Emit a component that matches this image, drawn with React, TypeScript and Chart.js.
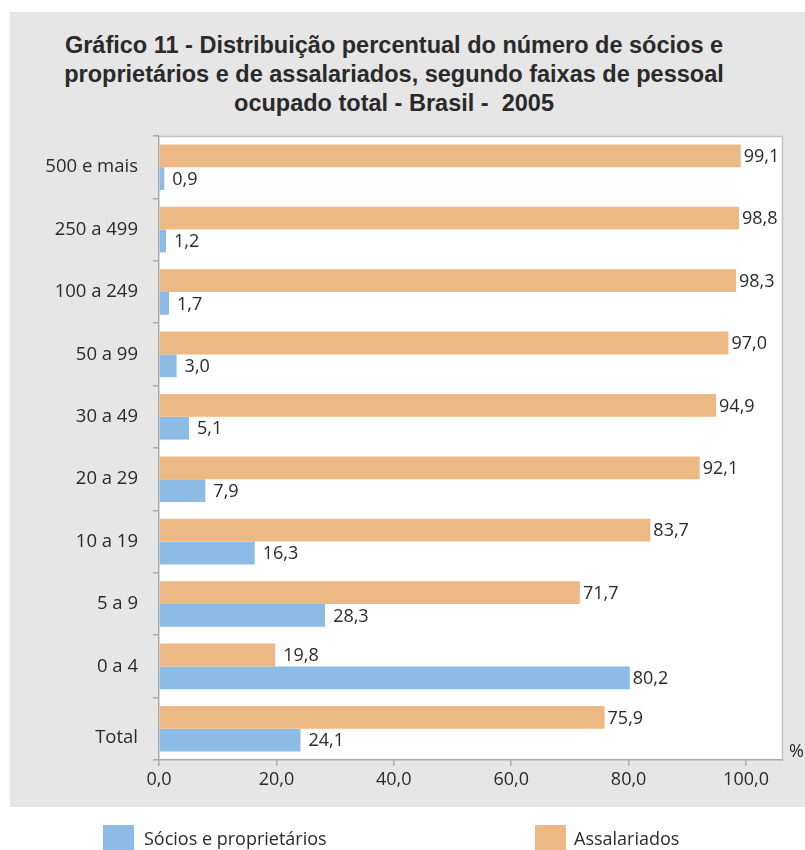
import React, { useEffect, useRef } from "react";
import { Chart, registerables } from "chart.js";
Chart.register(...registerables);

const categories = ["500 e mais", "250 a 499", "100 a 249", "50 a 99", "30 a 49", "20 a 29", "10 a 19", "5 a 9", "0 a 4", "Total"];
const socios = [0.9, 1.2, 1.7, 3.0, 5.1, 7.9, 16.3, 28.3, 80.2, 24.1];
const assalariados = [99.1, 98.8, 98.3, 97.0, 94.9, 92.1, 83.7, 71.7, 19.8, 75.9];
const xTickValues = [0, 20, 40, 60, 80, 100];
const titleLines = [
  "Gráfico 11 - Distribuição percentual do número de sócios e",
  "proprietários e de assalariados, segundo faixas de pessoal",
  "ocupado total - Brasil -  2005",
];
const seriesNames = ["Sócios e proprietários", "Assalariados"];

const ORANGE = "#ECB985";
const BLUE = "#8CBBE6";
const GRAY_BG = "#E5E6E5";
const TEXT = "#2a2a2a";
const FONT = "'Open Sans', 'Noto Sans', sans-serif";

const fmt = (v: number) => v.toFixed(1).replace(".", ",");

export default function App() {
  const ref = useRef<HTMLCanvasElement | null>(null);
  useEffect(() => {
    if (!ref.current) return;
    const areaPlugin = {
      id: "area",
      beforeDraw(chart: any) {
        const { ctx, chartArea: a } = chart;
        ctx.save();
        ctx.fillStyle = "#ffffff";
        ctx.fillRect(a.left, a.top, a.right - a.left, a.bottom - a.top);
        ctx.restore();
      },
      afterDraw(chart: any) {
        const { ctx, chartArea: a } = chart;
        ctx.save();
        ctx.strokeStyle = "#C2C2C2";
        ctx.lineWidth = 1.5;
        ctx.beginPath();
        ctx.moveTo(a.left, a.top + 0.5);
        ctx.lineTo(a.right - 0.5, a.top + 0.5);
        ctx.lineTo(a.right - 0.5, a.bottom);
        ctx.stroke();
        ctx.restore();
      },
      afterDatasetsDraw(chart: any) {
        const { ctx } = chart;
        ctx.save();
        ctx.font = `18px ${FONT}`;
        ctx.fillStyle = TEXT;
        ctx.textBaseline = "middle";
        ctx.textAlign = "left";
        chart.data.datasets.forEach((ds: any, di: number) => {
          const meta = chart.getDatasetMeta(di);
          meta.data.forEach((el: any, i: number) => {
            const v = ds.data[i] as number;
            const gap = v > 50 ? 3 : 8;
            ctx.fillText(fmt(v), el.x + gap, el.y + 1);
          });
        });
        ctx.restore();
      },
    };
    const chart = new Chart(ref.current, {
      type: "bar",
      data: {
        labels: categories.map((c) => (c === "Total" ? ["", c] : c)),
        datasets: [
          { label: seriesNames[1], data: assalariados, backgroundColor: ORANGE, categoryPercentage: 0.73, barPercentage: 1 },
          { label: seriesNames[0], data: socios, backgroundColor: BLUE, categoryPercentage: 0.73, barPercentage: 1 },
        ],
      },
      options: {
        indexAxis: "y",
        animation: false,
        responsive: false,
        maintainAspectRatio: false,
        layout: { padding: { top: 136, right: 22, left: 0, bottom: 0 } },
        plugins: { legend: { display: false }, tooltip: { enabled: false }, title: { display: false } },
        scales: {
          x: {
            min: 0,
            max: 106.3,
            afterBuildTicks(scale: any) {
              scale.ticks = xTickValues.map((v) => ({ value: v }));
            },
            afterFit(scale: any) {
              scale.height = 90;
            },
            ticks: {
              font: { family: FONT, size: 18 },
              color: TEXT,
              padding: 3,
              callback: (v: any) => fmt(Number(v)),
            },
            grid: { drawOnChartArea: false, drawTicks: true, tickLength: 6, color: "#AAAAAA", lineWidth: 1.5 },
            border: { display: true, color: "#AAAAAA", width: 1.5 },
          },
          y: {
            afterFit(scale: any) {
              scale.width = 159;
            },
            ticks: {
              font: { family: FONT, size: 18.5, lineHeight: 0.95 },
              color: TEXT,
              padding: 15,
            },
            grid: { offset: true, drawOnChartArea: false, drawTicks: true, tickLength: 6, color: "#AAAAAA", lineWidth: 1.5 },
            border: { display: true, color: "#AAAAAA", width: 1.5 },
          },
        },
      },
      plugins: [areaPlugin],
    } as any);
    return () => chart.destroy();
  }, []);

  return (
    <div style={{ position: "absolute", left: 0, top: 0, width: 805, height: 850, background: "#fff", overflow: "hidden" }}>
      <div style={{ position: "absolute", left: 10, top: 12, width: 795, height: 795, background: GRAY_BG }} />
      <div
        style={{
          position: "absolute",
          left: 0,
          top: 31,
          width: 788,
          textAlign: "center",
          fontFamily: "'Liberation Sans', Arial, sans-serif",
          fontWeight: "bold",
          fontSize: 23.5,
          lineHeight: "29px",
          color: TEXT,
          whiteSpace: "pre",
        }}
      >
        {titleLines.map((l, i) => (
          <div key={i}>{l}</div>
        ))}
      </div>
      <canvas ref={ref} width={805} height={850} style={{ position: "absolute", left: 0, top: 0, width: 805, height: 850 }} />
      <div style={{ position: "absolute", left: 789, top: 738, fontFamily: FONT, fontSize: 18, color: TEXT }}>%</div>
      <div style={{ position: "absolute", left: 103, top: 825, width: 31, height: 25, background: BLUE }} />
      <div style={{ position: "absolute", left: 144, top: 826, fontFamily: FONT, fontSize: 18, lineHeight: "24px", color: TEXT }}>{seriesNames[0]}</div>
      <div style={{ position: "absolute", left: 535, top: 825, width: 31, height: 25, background: ORANGE }} />
      <div style={{ position: "absolute", left: 574, top: 826, fontFamily: FONT, fontSize: 18, lineHeight: "24px", color: TEXT }}>{seriesNames[1]}</div>
    </div>
  );
}
